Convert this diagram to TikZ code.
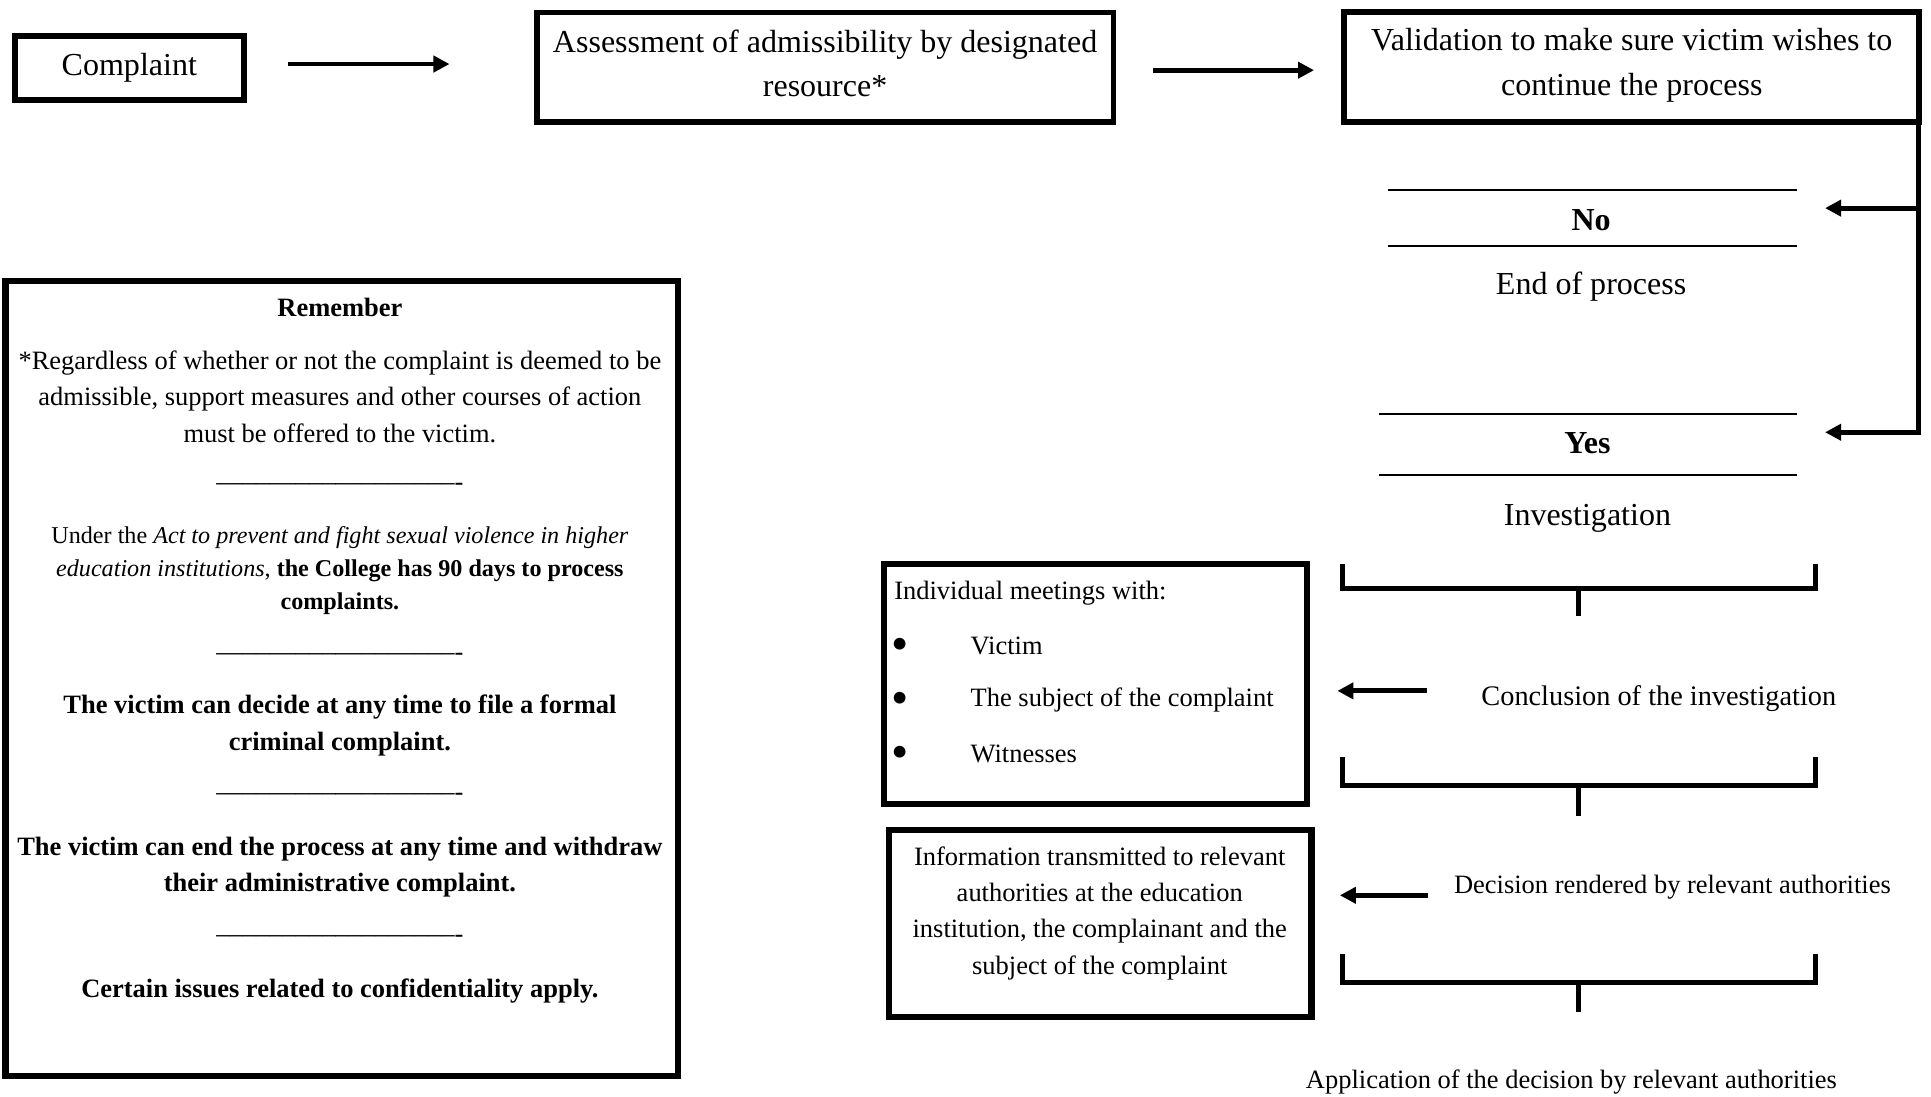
\documentclass[tikz,border=0pt]{standalone}
\usepackage{fontspec}
\setmainfont{Liberation Serif}
\usetikzlibrary{arrows.meta}
\begin{document}
\begin{tikzpicture}[x=1pt,y=-1pt,
  boxstyle/.style={draw,line width=5pt,inner sep=0pt,outer sep=0pt,line join=miter},
  big/.style={font=\fontsize{26}{36}\selectfont,align=center,inner sep=0pt},
  bigbold/.style={font=\fontsize{26}{36}\selectfont\bfseries,align=center,inner sep=0pt},
  mid/.style={font=\fontsize{21.5}{29.5}\selectfont,align=center,inner sep=0pt},
  midbold/.style={font=\fontsize{21.5}{29.5}\selectfont\bfseries,align=center,inner sep=0pt},
  small/.style={font=\fontsize{19.6}{27}\selectfont,align=center,inner sep=0pt},
  bulletstyle/.style={font=\fontsize{40}{40}\selectfont,inner sep=0pt},
  sepline/.style={font=\fontsize{21.5}{29.5}\selectfont,inner sep=0pt,anchor=base},
  arr/.style={line width=4pt,-{Triangle[length=13pt,width=13pt]},line join=miter},
  thinrule/.style={line width=1.5pt},
  brk/.style={line width=3.8pt,line join=miter}
]
\useasboundingbox (0,0) rectangle (1568,890);

% top row
\node[boxstyle,big,minimum width=186pt,minimum height=52pt] (complaint) at (105,55) {Complaint};
\node[boxstyle,minimum width=468pt,minimum height=89pt,line width=4.5pt] (assess) at (670,54.5) {};
\node[big] (assesstxt) at (670,51.5) {Assessment of admissibility by designated\\resource*};
\node[boxstyle,minimum width=467pt,minimum height=89pt] (valid) at (1324.5,54.5) {};
\node[big] (validtxt) at (1325,53) {Validation to make sure victim wishes to\\continue the process};

\draw[arr,shorten <=36pt,shorten >=71pt] ([yshift=3pt]complaint.east) -- ([yshift=3pt]assess.west |- complaint.east);
\draw[arr,shorten <=32pt,shorten >=24pt] ([yshift=-2.5pt]assess.east) -- ([yshift=-2.5pt]valid.west);

% No / Yes branch
\coordinate (noarr) at (1482,169);
\coordinate (yesarr) at (1482,351);
\draw[arr] ([yshift=2pt]valid.south east) |- (yesarr);
\draw[arr] (valid.south east |- noarr) -- (noarr);

\draw[thinrule] (1127,154) -- (1459,154);
\node[bigbold] (no) at (1292,179) {No};
\draw[thinrule] (1127,200) -- (1459,200);
\node[big] (endp) at (1292,233) {End of process};

\draw[thinrule] (1120,336) -- (1459,336);
\node[bigbold] (yes) at (1289,360) {Yes};
\draw[thinrule] (1120,386) -- (1459,386);
\node[big] (invest) at (1289,421) {Investigation};

% brackets
\draw[brk] (1090,458) -- (1090,478) -- (1474,478) -- (1474,458);
\draw[brk] (1282,478) -- (1282,500);
\draw[brk] (1090,615) -- (1090,638) -- (1474,638) -- (1474,615);
\draw[brk] (1282,638) -- (1282,663);
\draw[brk] (1090,775) -- (1090,798) -- (1474,798) -- (1474,775);
\draw[brk] (1282,798) -- (1282,822);

% conclusion
\node[font=\fontsize{23}{28}\selectfont,inner sep=0pt] (concl) at (1347,567) {Conclusion of the investigation};
\node[boxstyle,minimum width=343pt,minimum height=195pt] (indiv) at (889.5,555.5) {};
\node[mid,anchor=west] (indivhead) at (726,481.5) {Individual meetings with:};
\node[bulletstyle] (b1) at (731,527) {•};
\node[bulletstyle] (b2) at (731,571) {•};
\node[bulletstyle] (b3) at (731,615) {•};
\node[mid,anchor=west] (i1) at (788,524.5) {Victim};
\node[mid,anchor=west] (i2) at (788,568.5) {The subject of the complaint};
\node[mid,anchor=west] (i3) at (788,612.5) {Witnesses};
\draw[arr,shorten <=44pt,shorten >=25pt] ([yshift=6pt]concl.west) -- ([yshift=6pt]indiv.east |- concl.west);

% decision
\node[mid] (decision) at (1358,720) {Decision rendered by relevant authorities};
\node[boxstyle,minimum width=343pt,minimum height=152pt] (info) at (893.5,750) {};
\node[mid] (infotxt) at (893,741.5) {Information transmitted to relevant\\authorities at the education\\institution, the complainant and the\\subject of the complaint};
\draw[arr,shorten <=21pt,shorten >=23pt] ([yshift=-7pt]decision.west) -- ([yshift=-7pt]info.east |- decision.west);

\node[mid] (apply) at (1276,879) {Application of the decision by relevant authorities};

% remember box
\node[boxstyle,minimum width=546pt,minimum height=645pt] (remember) at (277.5,551) {};
\node[midbold] (remtitle) at (276,250) {Remember};
\node[mid] (rem1) at (276,322) {*Regardless of whether or not the complaint is deemed to be\\admissible, support measures and other courses of action\\must be offered to the victim.};
\node[sepline] (sep1) at (276,391) {\_\_\_\_\_\_\_\_\_\_\_\_\_\_\_\_\_\_\raisebox{-7pt}{-}};
\node[small] (rem2) at (276,463.5) {Under the \textit{Act to prevent and fight sexual violence in higher}\\\textit{education institutions}, \textbf{the College has 90 days to process}\\\textbf{complaints.}};
\node[sepline] (sep2) at (276,529) {\_\_\_\_\_\_\_\_\_\_\_\_\_\_\_\_\_\_\raisebox{-7pt}{-}};
\node[midbold] (rem3) at (276,589) {The victim can decide at any time to file a formal\\criminal complaint.};
\node[sepline] (sep3) at (276,643) {\_\_\_\_\_\_\_\_\_\_\_\_\_\_\_\_\_\_\raisebox{-7pt}{-}};
\node[midbold] (rem4) at (276,704) {The victim can end the process at any time and withdraw\\their administrative complaint.};
\node[sepline] (sep4) at (276,758) {\_\_\_\_\_\_\_\_\_\_\_\_\_\_\_\_\_\_\raisebox{-7pt}{-}};
\node[midbold] (rem5) at (276,804.5) {Certain issues related to confidentiality apply.};
\end{tikzpicture}
\end{document}
